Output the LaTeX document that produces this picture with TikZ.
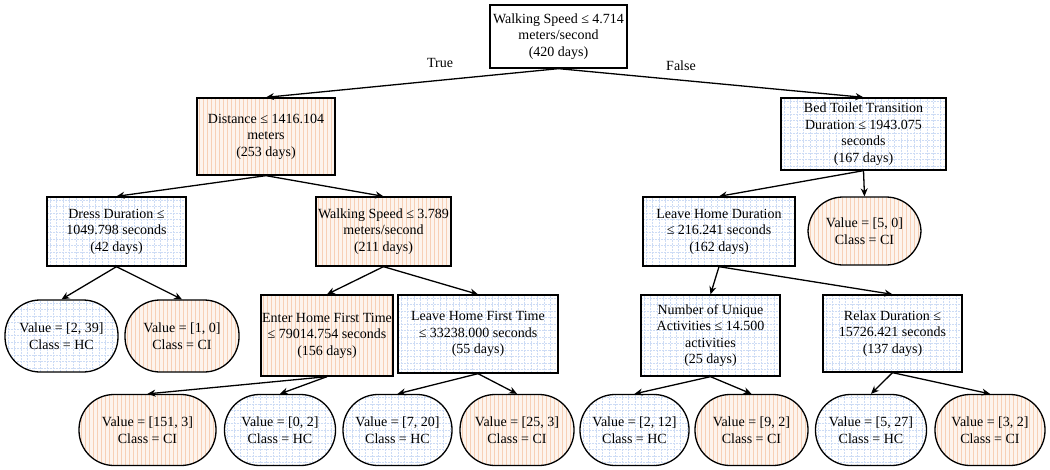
\documentclass[tikz,border=0pt]{standalone}
\usepackage{fontspec}
\setmainfont{Liberation Serif}
\usetikzlibrary{arrows.meta}
\definecolor{orbg}{RGB}{253,244,237}
\definecolor{orline}{RGB}{247,208,182}
\definecolor{bgrid}{RGB}{205,220,245}
\tikzset{
  box/.style={draw, line width=1.3pt, align=center, inner sep=1pt, font=\fontsize{14}{16.5}\selectfont},
  leaf/.style={box, rounded corners=35pt},
  org/.style={fill=orbg, path picture={
    \foreach \i in {2,6,...,170} \draw[orline, line width=0.8pt] ([xshift=\i pt]path picture bounding box.south west) -- ([xshift=\i pt]path picture bounding box.north west);}},
  blu/.style={fill=white, path picture={
    \foreach \i in {3,9.5,...,175} \draw[bgrid, line width=0.7pt, dash pattern=on 2pt off 1pt] ([xshift=\i pt]path picture bounding box.south west) -- ([xshift=\i pt]path picture bounding box.north west);
    \foreach \i in {3,9.5,...,90} \draw[bgrid, line width=0.7pt, dash pattern=on 2pt off 1pt] ([yshift=-\i pt]path picture bounding box.north west) -- ([yshift=-\i pt]path picture bounding box.north east);}},
  conn/.style={line width=1.3pt, -{Stealth[length=8pt,width=7pt]}},
  lbl/.style={font=\fontsize{14}{16.5}\selectfont}
}
\begin{document}
\begin{tikzpicture}[x=1pt,y=-1pt]
\useasboundingbox (0,0) rectangle (1050,469);
% level 0
\node[box, fill=white, minimum width=137pt, minimum height=63pt] (root) at (558.5,36.5) {Walking Speed ≤ 4.714\\meters/second\\(420 days)};
% level 1
\node[box, org, minimum width=138pt, minimum height=77pt] (dist) at (266,136.5) {Distance ≤ 1416.104\\meters\\(253 days)};
\node[box, blu, minimum width=165pt, minimum height=72pt] (bed) at (863.5,134) {Bed Toilet Transition\\Duration ≤ 1943.075\\seconds\\(167 days)};
% level 2
\node[box, blu, minimum width=139pt, minimum height=69pt] (dress) at (116.5,231.5) {Dress Duration ≤\\1049.798 seconds\\(42 days)};
\node[box, org, minimum width=135pt, minimum height=69pt] (ws2) at (383.5,231.5) {Walking Speed ≤ 3.789\\meters/second\\(211 days)};
\node[box, blu, minimum width=152pt, minimum height=69pt] (lhd) at (719,231.5) {Leave Home Duration\\≤ 216.241 seconds\\(162 days)};
\node[leaf, org, minimum width=113pt, minimum height=68pt] (l50) at (864.5,231) {Value = [5, 0]\\Class = CI};
% level 3
\node[leaf, blu, minimum width=113pt, minimum height=72pt] (l239) at (61.5,336) {Value = [2, 39]\\Class = HC};
\node[leaf, org, minimum width=114pt, minimum height=72pt] (l10) at (182,336) {Value = [1, 0]\\Class = CI};
\node[box, org, minimum width=126pt, minimum height=81pt] (ehf) at (327,335.5) {Enter Home First Time\\≤ 79014.754 seconds\\(156 days)};
\node[box, blu, minimum width=160pt, minimum height=78pt] (lhf) at (478,334) {Leave Home First Time\\≤ 33238.000 seconds\\(55 days)};
\node[box, blu, minimum width=139pt, minimum height=81pt] (nua) at (710.5,335.5) {Number of Unique\\Activities ≤ 14.500\\activities\\(25 days)};
\node[box, blu, minimum width=139pt, minimum height=77pt] (rd) at (892.5,333.5) {Relax Duration ≤\\15726.421 seconds\\(137 days)};
% level 4
\node[leaf, org, minimum width=137pt, minimum height=71pt] (la) at (147.5,430) {Value = [151, 3]\\Class = CI};
\node[leaf, blu, minimum width=111pt, minimum height=71pt] (lb) at (280,430) {Value = [0, 2]\\Class = HC};
\node[leaf, blu, minimum width=109pt, minimum height=71pt] (lc) at (397.5,430) {Value = [7, 20]\\Class = HC};
\node[leaf, org, minimum width=114pt, minimum height=71pt] (ld) at (517,430) {Value = [25, 3]\\Class = CI};
\node[leaf, blu, minimum width=109pt, minimum height=71pt] (le) at (634.5,430) {Value = [2, 12]\\Class = HC};
\node[leaf, org, minimum width=113pt, minimum height=71pt] (lf) at (751.5,430) {Value = [9, 2]\\Class = CI};
\node[leaf, blu, minimum width=111pt, minimum height=71pt] (lg) at (871,430) {Value = [5, 27]\\Class = HC};
\node[leaf, org, minimum width=110pt, minimum height=71pt] (lh) at (990,430) {Value = [3, 2]\\Class = CI};
% edges
\draw[conn] (root.south) -- (dist.north);
\draw[conn] (root.south) -- (bed.north);
\draw[conn] (dist.south) -- (dress.north);
\draw[conn] (dist.south) -- (ws2.north);
\draw[conn] (bed.south) -- (lhd.north);
\draw[conn] (bed.south) -- (l50.north);
\draw[conn] (dress.south) -- (l239.north);
\draw[conn] (dress.south) -- (l10.north);
\draw[conn] (ws2.south) -- (ehf.north);
\draw[conn] (ws2.south) -- (lhf.north);
\draw[conn] (lhd.south) -- (nua.north);
\draw[conn] (lhd.south) -- (rd.north);
\draw[conn] (ehf.south) -- (la.north);
\draw[conn] (ehf.south) -- (lb.north);
\draw[conn] (lhf.south) -- (lc.north);
\draw[conn] (lhf.south) -- (ld.north);
\draw[conn] (nua.south) -- (le.north);
\draw[conn] (nua.south) -- (lf.north);
\draw[conn] (rd.south) -- (lg.north);
\draw[conn] (rd.south) -- (lh.north);
% labels
\node[lbl] (tl) at (440,63) {True};
\node[lbl] (fl) at (681,66) {False};
\end{tikzpicture}
\end{document}
